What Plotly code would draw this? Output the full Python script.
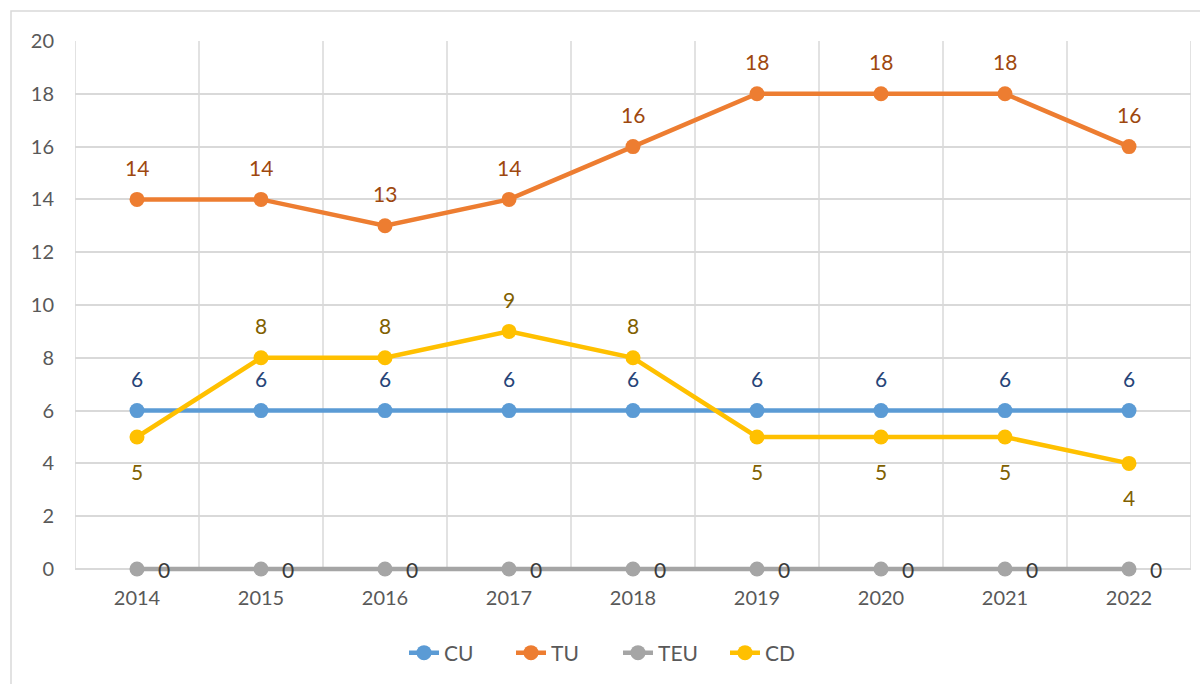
import plotly.graph_objects as go

years = ["2014", "2015", "2016", "2017", "2018", "2019", "2020", "2021", "2022"]
cu = [6, 6, 6, 6, 6, 6, 6, 6, 6]
tu = [14, 14, 13, 14, 16, 18, 18, 18, 16]
teu = [0, 0, 0, 0, 0, 0, 0, 0, 0]
cd = [5, 8, 8, 9, 8, 5, 5, 5, 4]

FONT = "Lato"
series = [
    ("CU", cu, "#5B9BD5", "#264478"),
    ("TU", tu, "#ED7D31", "#9E480E"),
    ("TEU", teu, "#A5A5A5", "#3B3B3B"),
    ("CD", cd, "#FFC000", "#806000"),
]

fig = go.Figure()
for name, vals, color, _ in series:
    fig.add_trace(go.Scatter(
        x=years, y=vals, name=name, mode="lines+markers",
        line=dict(color=color, width=4.5),
        marker=dict(color=color, size=15),
        cliponaxis=False,
    ))

# value labels (x given as category index)
annotations = []
for name, vals, color, lab in series:
    for i, v in enumerate(vals):
        xs, ys = 0, 32
        if name == "TEU":
            xs, ys = 27, 0
        elif name == "CD" and (i == 0 or i >= 5):
            ys = -34
        annotations.append(dict(
            x=i, y=v, xref="x", yref="y", text=str(v), showarrow=False,
            xshift=xs, yshift=ys,
            font=dict(family=FONT, size=21, color=lab),
        ))

# plot geometry: 0..20 spans 528 px, a little room below zero so the
# zero-valued line is not clipped
L, R, T, B = 75, 9, 41, 110
W, H = 1200 - L - R, 684 - T - B
PX_PER_UNIT = 528 / 20
Y_LOW = -(H - 528) / PX_PER_UNIT

shapes = [dict(
    type="rect", xref="paper", yref="paper",
    x0=(11 - L) / W, x1=(1215 - L) / W,
    y0=(684 - B - 700) / H, y1=(684 - B - 11) / H,
    line=dict(color="#D9D9D9", width=1.5), fillcolor="rgba(0,0,0,0)",
    layer="below",
)]
# vertical gridlines on category boundaries, from 0 to 20
for i in range(len(years) + 1):
    shapes.append(dict(
        type="line", xref="x", yref="y", x0=i - 0.5, x1=i - 0.5, y0=0, y1=20,
        line=dict(color="#D9D9D9", width=1.5), layer="below",
    ))

fig.update_layout(
    width=1200, height=684,
    margin=dict(l=L, r=R, t=T, b=B),
    paper_bgcolor="white", plot_bgcolor="white",
    font=dict(family=FONT, size=20, color="#595959"),
    showlegend=True,
    legend=dict(
        orientation="h", x=(618 - L) / W, xanchor="center",
        y=(684 - B - 653) / H, yanchor="middle",
        font=dict(family=FONT, size=21, color="#595959"),
        entrywidth=62, entrywidthmode="pixels",
    ),
    annotations=annotations,
    shapes=shapes,
)
fig.update_xaxes(
    type="category", range=[-0.5, 8.5],
    showgrid=False, showline=False,
    ticks="", ticklabelstandoff=10, zeroline=False,
)
fig.update_yaxes(
    range=[Y_LOW, 20], tick0=0, dtick=2,
    showgrid=True, gridcolor="#D9D9D9", gridwidth=1.5,
    showline=False, ticks="", ticklabelstandoff=20, zeroline=False,
)

fig.write_html("out.html")
